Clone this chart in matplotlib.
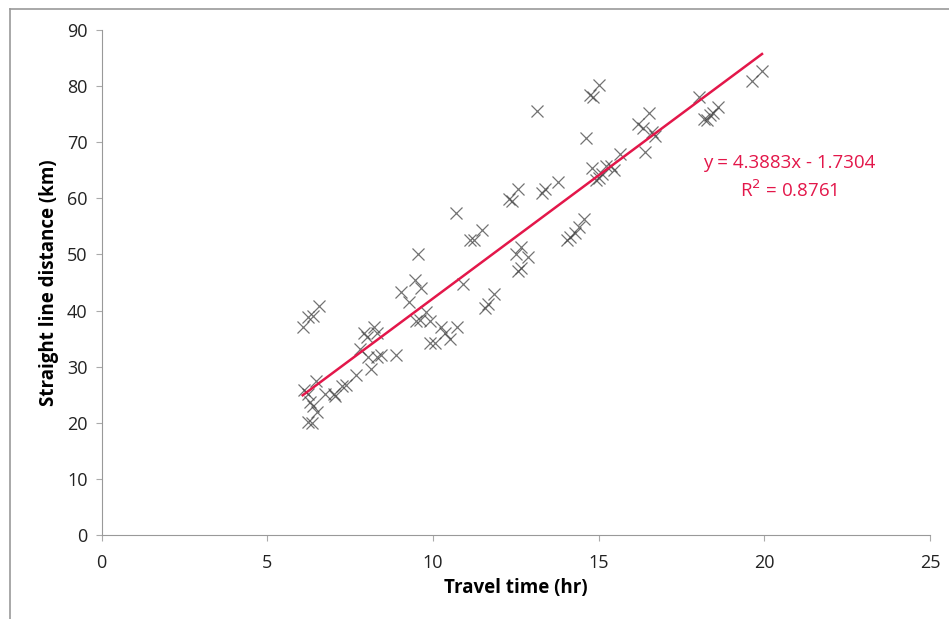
import numpy as np
import matplotlib
matplotlib.use("Agg")
import matplotlib.pyplot as plt
from matplotlib.lines import Line2D

# travel time (hr) vs straight line distance (km)
travel_time = [6.07, 6.24, 6.39, 6.57, 6.11, 6.24, 6.29, 6.39, 6.51, 6.24,
               6.35, 6.48, 6.75, 7.03, 7.0, 7.27, 7.39, 7.67, 7.8, 7.91,
               8.0, 8.22, 8.31, 8.04, 8.13, 8.31, 8.44, 8.9, 9.05, 9.27,
               9.45, 9.56, 9.63, 9.5, 9.6, 9.78, 9.9, 9.9, 10.06, 10.24,
               10.37, 10.5, 10.73, 10.7, 10.92, 11.12, 11.25, 11.47, 11.58, 11.67,
               11.83, 12.29, 12.4, 12.57, 12.57, 12.66, 12.5, 12.66, 12.86, 13.14,
               13.3, 13.39, 13.78, 14.04, 14.15, 14.28, 14.4, 14.55, 14.61, 14.73,
               14.83, 15.0, 14.79, 14.92, 15.0, 15.1, 15.23, 15.38, 15.47, 15.65,
               16.2, 16.33, 16.51, 16.39, 16.6, 16.7, 18.04, 18.17, 18.26, 18.35,
               18.46, 18.59, 19.63, 19.93]
distance = [37.0, 38.8, 39.1, 40.9, 25.8, 25.1, 23.7, 23.0, 21.9, 20.2,
            20.0, 27.5, 25.1, 24.7, 25.2, 26.5, 26.8, 28.6, 33.1, 36.0,
            35.3, 37.1, 36.0, 31.7, 29.6, 31.7, 32.1, 32.1, 43.3, 41.6,
            45.4, 50.1, 44.0, 38.1, 38.4, 39.8, 38.1, 34.3, 34.3, 37.0,
            36.0, 34.9, 37.1, 57.4, 44.7, 52.5, 52.5, 54.4, 40.5, 41.2,
            43.0, 59.8, 59.6, 61.6, 47.0, 47.5, 50.0, 51.4, 49.6, 75.6,
            60.9, 61.6, 62.9, 52.5, 53.2, 53.9, 54.9, 56.3, 70.7, 78.4,
            78.1, 80.2, 65.4, 63.3, 63.7, 64.4, 65.8, 65.8, 65.1, 67.9,
            73.2, 72.5, 75.3, 68.3, 71.8, 71.1, 78.1, 74.2, 73.9, 74.9,
            75.3, 76.3, 80.9, 82.7]

slope = 4.3883
intercept = -1.7304
r_squared = 0.8761

x_ticks = [0, 5, 10, 15, 20, 25]
y_ticks = [0, 10, 20, 30, 40, 50, 60, 70, 80, 90]

plt.rcParams['font.family'] = ['Open Sans', 'DejaVu Sans']

fig = plt.figure(figsize=(9.49, 6.19), dpi=100)
ax = fig.add_axes([0.107, 0.1357, 0.873, 0.8158])

ax.plot(travel_time, distance, linestyle='none', marker='x', markersize=8,
        markeredgewidth=0.9, color='#444444', alpha=0.75)

# linear trendline over the data range
tx = np.array([min(travel_time), max(travel_time)])
ax.plot(tx, slope * tx + intercept, color='#e3174a', linewidth=1.8)

ax.text(20.75, 66.3, f'y = {slope}x - {abs(intercept)}', color='#e3174a',
        fontsize=13.5, ha='center', va='center')
ax.text(20.75, 61.5, f'R$^2$ = {r_squared}', color='#e3174a',
        fontsize=13.5, ha='center', va='center')

ax.set_xlim(0, 25)
ax.set_ylim(0, 90)
ax.set_xticks(x_ticks)
ax.set_yticks(y_ticks)
ax.tick_params(labelsize=13, colors='#222222', length=4, width=0.8)
ax.tick_params(axis='x', pad=10, color='#aaaaaa')
ax.tick_params(axis='y', color='#aaaaaa', pad=6)

for side in ['top', 'right']:
    ax.spines[side].set_visible(False)
for side in ['left', 'bottom']:
    ax.spines[side].set_color('#999999')
    ax.spines[side].set_linewidth(0.8)

ax.set_xlabel('Travel time (hr)', fontsize=13.5, fontweight='bold', labelpad=4)
ax.set_ylabel('Straight line distance (km)', fontsize=13.5, fontweight='bold',
              labelpad=6)

# chart area border (top and left edges show in the crop)
fig.add_artist(Line2D([0.011, 1.0], [0.986, 0.986], transform=fig.transFigure,
                      color='#999999', linewidth=1.2))
fig.add_artist(Line2D([0.011, 0.011], [0.0, 0.986], transform=fig.transFigure,
                      color='#999999', linewidth=1.2))

fig.savefig('out.png', dpi=100)
